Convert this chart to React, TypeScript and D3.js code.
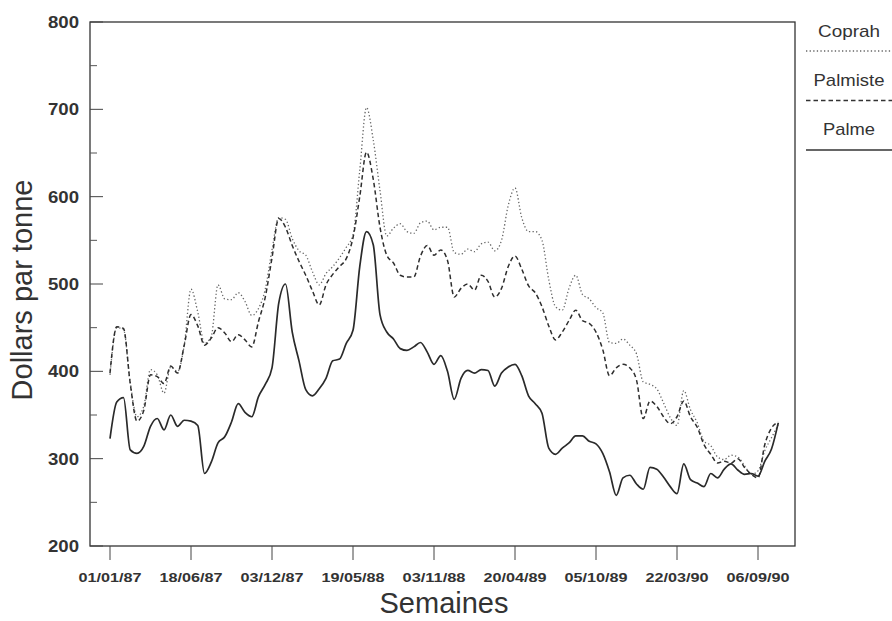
import React from "react";
import * as d3 from "d3";

// sampling: one value every 2 weeks starting 01/01/87 (week index = 2*i)
const palme = [
  323, 365, 370, 310, 306, 314, 337, 346, 333, 350,
  337, 344, 343, 338, 283, 296, 318, 325, 342, 363,
  353, 348, 371, 385, 404, 478, 500, 445, 412, 379,
  372, 380, 392, 412, 414, 432, 447, 520, 560, 545,
  465, 445, 437, 426, 424, 428, 433, 422, 408, 418,
  400, 368, 392, 401, 398, 402, 401, 383, 398, 405,
  408, 395, 372, 363, 352, 312, 305, 312, 318, 326,
  326, 320, 317, 306, 285, 258, 278, 281, 271, 265,
  290, 288, 279, 268, 260, 294, 276, 272, 268, 283,
  278, 288, 294, 287, 282, 283, 280, 297, 311, 341,
];

const palmiste = [
  398, 451, 449, 386, 343, 355, 396, 394, 386, 406,
  398, 430, 465, 452, 430, 438, 450, 444, 434, 442,
  436, 428, 457, 485, 530, 575, 565, 544, 526, 510,
  492, 476, 499, 511, 520, 529, 553, 600, 651, 620,
  565, 533, 524, 510, 508, 508, 532, 544, 533, 539,
  527, 485, 495, 500, 493, 510, 503, 485, 495, 520,
  532, 517, 498, 490, 474, 452, 436, 445, 458, 470,
  458, 455, 445, 425, 395, 404, 408, 404, 390, 346,
  366, 360, 348, 340, 348, 366, 348, 336, 316, 305,
  295, 297, 295, 300, 290, 282, 278, 316, 335, 342,
];

const coprah = [
  396, 450, 448, 387, 348, 360, 402, 396, 375, 405,
  400, 430, 494, 468, 432, 440, 499, 483, 482, 490,
  480, 464, 472, 494, 539, 576, 574, 552, 538, 533,
  514, 499, 512, 520, 530, 542, 556, 630, 702, 665,
  607, 555, 564, 569, 560, 558, 570, 572, 562, 565,
  565, 536, 534, 540, 537, 546, 548, 538, 550, 590,
  610, 576, 560, 560, 550, 505, 474, 470, 495, 510,
  488, 483, 473, 467, 433, 432, 437, 430, 420, 388,
  385, 380, 364, 347, 338, 378, 356, 341, 320, 315,
  302, 299, 304, 302, 292, 282, 286, 309, 324, 339,
];

const tickWeeks = [0, 24, 48, 72, 96, 120, 144, 168, 192];
const tickLabels = [
  "01/01/87", "18/06/87", "03/12/87", "19/05/88", "03/11/88",
  "20/04/89", "05/10/89", "22/03/90", "06/09/90",
];
const yMajor = [200, 300, 400, 500, 600, 700, 800];
const yMinor = [250, 350, 450, 550, 650, 750];

const legendItems = [
  { name: "Coprah", dash: "1.3,2.3", color: "#666", width: 1.3 },
  { name: "Palmiste", dash: "4.5,3", color: "#333", width: 1.5 },
  { name: "Palme", dash: "none", color: "#333", width: 1.5 },
];

export default function App() {
  const W = 892, H = 621;
  const left = 90, right = 795, top = 22, bottom = 546;
  const x = d3.scaleLinear().domain([0, 192]).range([110, 758]);
  const y = d3.scaleLinear().domain([200, 800]).range([bottom, top]);
  const line = d3
    .line<number>()
    .x((_, i) => x(i * 2))
    .y((v) => y(v))
    .curve(d3.curveMonotoneX);

  const font = "'Liberation Sans', Arial, Helvetica, sans-serif";
  return (
    <svg width={W} height={H} style={{ position: "absolute", left: 0, top: 0, background: "#fff" }}>
      <rect x={0} y={0} width={W} height={H} fill="#fff" />
      {/* series */}
      <path d={line(coprah) || ""} fill="none" stroke="#666" strokeWidth={1.3} strokeDasharray="1.3,2.3" />
      <path d={line(palmiste) || ""} fill="none" stroke="#2e2e2e" strokeWidth={1.5} strokeDasharray="4.5,3" />
      <path d={line(palme) || ""} fill="none" stroke="#2a2a2a" strokeWidth={1.7} />
      {/* frame */}
      <rect x={left} y={top} width={right - left} height={bottom - top} fill="none" stroke="#333" strokeWidth={1.3} />
      {/* y ticks */}
      {yMajor.map((v) => (
        <g key={"ym" + v}>
          <line x1={left} x2={left + 13} y1={y(v)} y2={y(v)} stroke="#444" strokeWidth={1} />
          <text x={79} y={y(v) + 6} textAnchor="end" fontFamily={font} fontWeight="bold" fontSize={16}
            fill="#333" textLength={31} lengthAdjust="spacingAndGlyphs">{v}</text>
        </g>
      ))}
      {yMinor.map((v) => (
        <line key={"yn" + v} x1={left} x2={left + 7} y1={y(v)} y2={y(v)} stroke="#555" strokeWidth={1} />
      ))}
      {/* x ticks */}
      {tickWeeks.map((w, i) => (
        <g key={"xt" + w}>
          <line x1={x(w)} x2={x(w)} y1={bottom} y2={bottom + 14} stroke="#444" strokeWidth={1} />
          <text x={x(w)} y={582} textAnchor="middle" fontFamily={font} fontWeight="bold" fontSize={13}
            fill="#333" textLength={63} lengthAdjust="spacingAndGlyphs">{tickLabels[i]}</text>
        </g>
      ))}
      {/* axis titles */}
      <text x={444} y={613} textAnchor="middle" fontFamily={font} fontSize={29} fill="#333">Semaines</text>
      <text transform="translate(32,290) rotate(-90)" textAnchor="middle" fontFamily={font} fontSize={29}
        fill="#333">Dollars par tonne</text>
      {/* legend */}
      {legendItems.map((it, i) => (
        <g key={it.name}>
          <text x={849} y={37 + i * 49} textAnchor="middle" fontFamily={font} fontSize={17} fill="#333"
            textLength={[62, 71, 52][i]} lengthAdjust="spacingAndGlyphs">{it.name}</text>
          <line x1={806} x2={892} y1={51 + i * 49.5} y2={51 + i * 49.5} stroke={it.color}
            strokeWidth={it.width} strokeDasharray={it.dash} />
        </g>
      ))}
    </svg>
  );
}
